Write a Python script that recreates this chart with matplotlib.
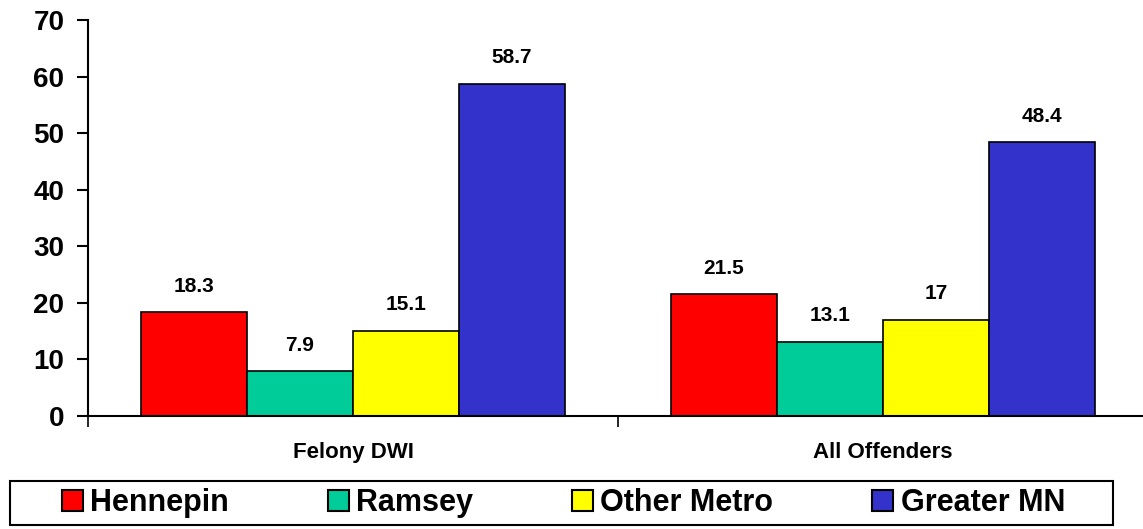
import matplotlib
matplotlib.use("Agg")
import matplotlib.pyplot as plt
import numpy as np
from matplotlib.patches import Patch, Rectangle

plt.rcParams['font.family'] = ['Liberation Sans', 'DejaVu Sans']
plt.rcParams['font.weight'] = 'bold'

# data
groups = ['Felony DWI', 'All Offenders']
regions = ['Hennepin', 'Ramsey', 'Other Metro', 'Greater MN']
hennepin = [18.3, 21.5]
ramsey = [7.9, 13.1]
other_metro = [15.1, 17]
greater_mn = [58.7, 48.4]
yticks = [0, 10, 20, 30, 40, 50, 60, 70]

series = [hennepin, ramsey, other_metro, greater_mn]
colors = ['#FF0000', '#00CC99', '#FFFF00', '#3333CC']

fig = plt.figure(figsize=(11.43, 5.29), dpi=100)
ax = fig.add_axes([88 / 1143, 1 - 416 / 529, 1060 / 1143, (416 - 20) / 529])

x = np.arange(len(groups))
width = 0.2
for i, (vals, col) in enumerate(zip(series, colors)):
    pos = x + (i - 1.5) * width
    bars = ax.bar(pos, vals, width, color=col, edgecolor='black', linewidth=1.2,
                  label=regions[i])
    for b, v in zip(bars, vals):
        ax.annotate(f'{v:g}', (b.get_x() + b.get_width() / 2, v),
                    xytext=(0, 12), textcoords='offset points',
                    ha='center', va='bottom', fontsize=15, fontweight='bold')

ax.set_xlim(-0.5, 1.5)
ax.set_ylim(0, 70)
ax.set_yticks(yticks)
ax.tick_params(axis='y', labelsize=20, length=8, width=1.5, direction='out', pad=9)

ax.set_xticks([-0.5, 0.5, 1.5])
ax.set_xticklabels([])
ax.tick_params(axis='x', which='major', length=8, width=1.2, direction='out')
ax.set_xticks(x, minor=True)
ax.set_xticklabels(groups, minor=True)
ax.tick_params(axis='x', which='minor', length=0, labelsize=16, pad=19)

for s in ['top', 'right']:
    ax.spines[s].set_visible(False)
ax.spines['left'].set_linewidth(1.5)
ax.spines['bottom'].set_linewidth(1.5)

# legend box drawn separately, entries spread inside it
fig.patches.append(Rectangle((10 / 1143, 4 / 529), 1103 / 1143, 44 / 529,
                             transform=fig.transFigure, fill=False,
                             edgecolor='black', linewidth=1.5))
handles = [Patch(facecolor=c, edgecolor='black', linewidth=1.5) for c in colors]
fig.legend(handles, regions, loc='center left', ncol=4,
           bbox_to_anchor=(62 / 1143, 4 / 529, 1003 / 1143, 44 / 529),
           mode='expand', frameon=False,
           prop={'size': 22, 'weight': 'bold'},
           handlelength=0.68, handleheight=0.68, handletextpad=0.25,
           borderaxespad=0, borderpad=0, columnspacing=1.0)

fig.savefig('out.png', dpi=100)
